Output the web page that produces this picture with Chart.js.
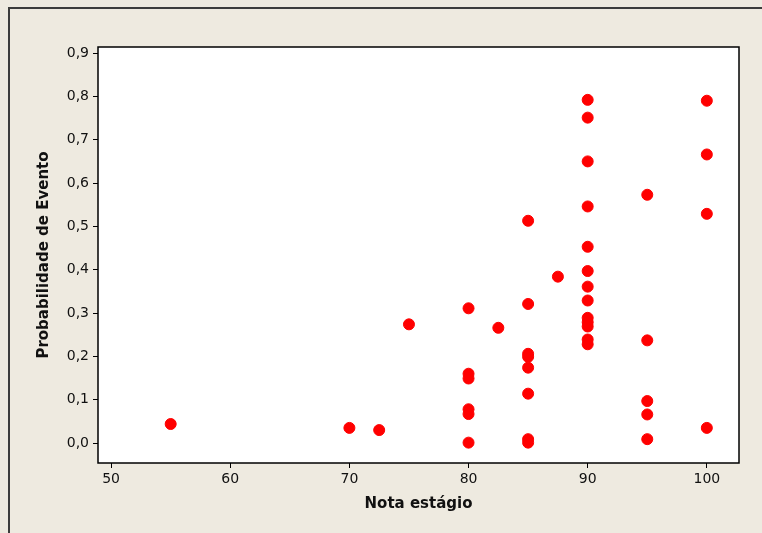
<!DOCTYPE html>
<html>
<head>
<meta charset="utf-8">
<script src="https://cdn.jsdelivr.net/npm/chart.js@4.4.1/dist/chart.umd.min.js"></script>
<style>
  html, body { margin: 0; padding: 0; background: #eeeae0; }
  #wrap { width: 762px; height: 533px; }
</style>
</head>
<body>
<div id="wrap"><canvas id="scatterChart" width="762" height="533"></canvas></div>
<script>
// Nota do estágio x probabilidade estimada do evento
const notas = [
  55, 70, 72.5, 75,
  80, 80, 80, 80, 80, 80,
  82.5,
  85, 85, 85, 85, 85, 85, 85, 85,
  87.5,
  90, 90, 90, 90, 90, 90, 90, 90, 90, 90, 90, 90, 90,
  95, 95, 95, 95, 95,
  100, 100, 100, 100
];
const probabilidades = [
  0.044, 0.035, 0.030, 0.274,
  0.311, 0.160, 0.149, 0.078, 0.067, 0.001,
  0.266,
  0.513, 0.321, 0.206, 0.199, 0.174, 0.114, 0.009, 0.001,
  0.384,
  0.792, 0.751, 0.650, 0.546, 0.453, 0.397, 0.361, 0.329, 0.289, 0.279, 0.269, 0.239, 0.228,
  0.573, 0.237, 0.097, 0.066, 0.009,
  0.790, 0.666, 0.529, 0.035
];
const xTicks = [50, 60, 70, 80, 90, 100];
const yTicks = [0, 0.1, 0.2, 0.3, 0.4, 0.5, 0.6, 0.7, 0.8, 0.9];

const pontos = notas.map((n, i) => ({ x: n, y: probabilidades[i] }));

// painel bege, moldura externa e caixa branca do gráfico
const moldura = {
  id: 'moldura',
  beforeDraw(chart) {
    const { ctx, chartArea: a } = chart;
    ctx.save();
    ctx.fillStyle = '#eeeae0';
    ctx.fillRect(0, 0, chart.width, chart.height);
    ctx.strokeStyle = '#3c3c3c';
    ctx.lineWidth = 2;
    ctx.beginPath();
    ctx.moveTo(9, chart.height);
    ctx.lineTo(9, 8);
    ctx.lineTo(chart.width, 8);
    ctx.stroke();
    ctx.fillStyle = '#ffffff';
    ctx.fillRect(a.left, a.top, a.right - a.left, a.bottom - a.top);
    ctx.restore();
  },
  afterDatasetsDraw(chart) {
    const { ctx, chartArea: a } = chart;
    ctx.save();
    ctx.strokeStyle = '#000000';
    ctx.lineWidth = 1.5;
    ctx.strokeRect(a.left, a.top, a.right - a.left, a.bottom - a.top);
    ctx.restore();
  }
};

const virgula = v => Number(v).toFixed(1).replace('.', ',');

new Chart(document.getElementById('scatterChart'), {
  type: 'scatter',
  data: {
    datasets: [{
      data: pontos,
      backgroundColor: '#ff0000',
      borderColor: '#ff0000',
      pointRadius: 5.5,
      pointHoverRadius: 5.5
    }]
  },
  options: {
    responsive: false,
    animation: false,
    layout: { padding: { top: 47, right: 23, left: 0, bottom: 0 } },
    plugins: { legend: { display: false }, tooltip: { enabled: false } },
    scales: {
      x: {
        type: 'linear',
        min: 48.9,
        max: 102.7,
        afterBuildTicks: s => { s.ticks = xTicks.map(v => ({ value: v })); },
        afterFit: s => { s.height = 70; },
        grid: { drawOnChartArea: false, drawTicks: true, tickLength: 5, color: '#000000', lineWidth: 1 },
        border: { display: false },
        ticks: { color: '#111111', padding: 3, maxRotation: 0, font: { family: 'DejaVu Sans', size: 14 } },
        title: {
          display: true,
          text: 'Nota estágio',
          color: '#111111',
          padding: { top: 4, bottom: 20 },
          font: { family: 'DejaVu Sans', size: 15, weight: 'bold' }
        }
      },
      y: {
        type: 'linear',
        min: -0.046,
        max: 0.914,
        afterBuildTicks: s => { s.ticks = yTicks.map(v => ({ value: v })); },
        afterFit: s => { s.width = 98; },
        grid: { drawOnChartArea: false, drawTicks: true, tickLength: 5, color: '#000000', lineWidth: 1 },
        border: { display: false },
        ticks: { color: '#111111', padding: 4, callback: virgula, font: { family: 'DejaVu Sans', size: 14 } },
        title: {
          display: true,
          text: 'Probabilidade de Evento',
          color: '#111111',
          padding: { top: 35, bottom: 4 },
          font: { family: 'DejaVu Sans', size: 15, weight: 'bold' }
        }
      }
    }
  },
  plugins: [moldura]
});
</script>
</body>
</html>
